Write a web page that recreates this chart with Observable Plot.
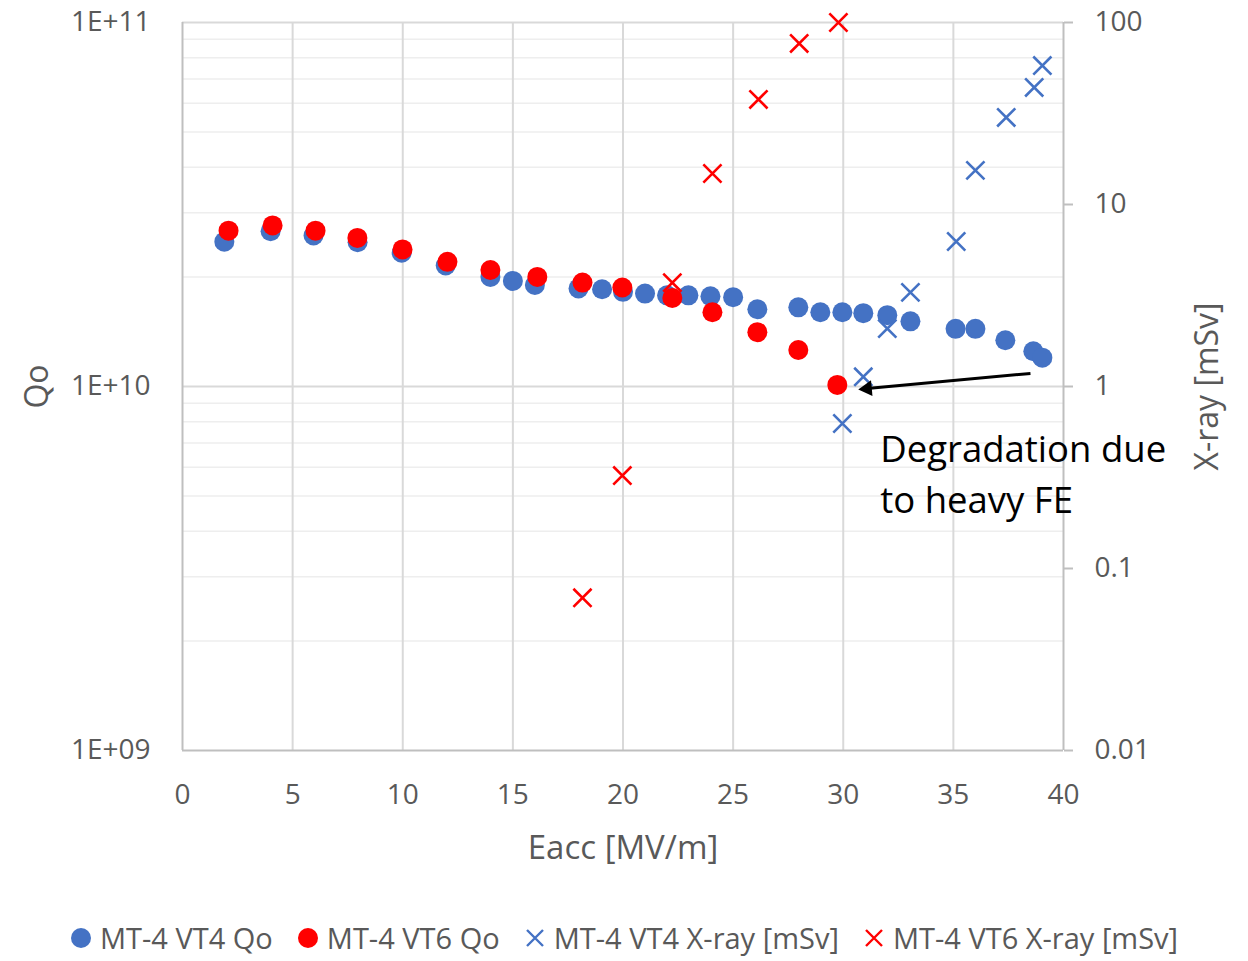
<!DOCTYPE html>
<html>
<head>
<meta charset="utf-8">
<script src="https://cdn.jsdelivr.net/npm/d3@7"></script>
<script src="https://cdn.jsdelivr.net/npm/@observablehq/plot@0.6"></script>
<style>
  html, body { margin: 0; padding: 0; background: #fff; overflow: hidden; }
  #chart svg { display: block; }
  #legend { display: flex; justify-content: center; align-items: center; font-family: "Open Sans", sans-serif; font-size: 29px; line-height: 40px; color: #595959; height: 40px; margin-top: 16px; }
  #legend .item { display: flex; align-items: center; margin: 0 12px; }
  #legend .item svg { margin-right: 8px; }
</style>
</head>
<body>
<div id="chart"></div>
<div id="legend"></div>
<script>
// ---- data ----
const vt4E = [1.9, 4.0, 5.95, 7.95, 9.95, 11.95, 13.98, 15.0, 16.0, 17.98, 19.05, 20.0, 21.0, 22.0, 22.97, 23.97, 25.0, 26.1, 27.96, 28.96, 29.96, 30.91, 32.0, 33.05, 35.1, 36.0, 37.36, 38.63, 39.04];
const vt4Q = [2.50e10, 2.67e10, 2.60e10, 2.49e10, 2.33e10, 2.15e10, 2.00e10, 1.95e10, 1.90e10, 1.86e10, 1.85e10, 1.82e10, 1.80e10, 1.78e10, 1.78e10, 1.77e10, 1.76e10, 1.63e10, 1.65e10, 1.60e10, 1.60e10, 1.59e10, 1.57e10, 1.51e10, 1.44e10, 1.44e10, 1.34e10, 1.25e10, 1.20e10];
const vt6E = [2.09, 4.09, 6.04, 7.94, 9.99, 12.03, 13.98, 16.11, 18.16, 19.97, 22.24, 24.06, 26.1, 27.96, 29.73];
const vt6Q = [2.68e10, 2.77e10, 2.68e10, 2.56e10, 2.38e10, 2.20e10, 2.09e10, 2.00e10, 1.93e10, 1.87e10, 1.75e10, 1.60e10, 1.41e10, 1.26e10, 1.01e10];
const vt4XrayE = [29.96, 30.91, 32.0, 33.05, 35.13, 36.0, 37.4, 38.67, 39.04];
const vt4Xray = [0.626, 1.13, 2.08, 3.29, 6.26, 15.4, 30.1, 44.0, 58.0];
const vt6XrayE = [18.16, 19.97, 22.24, 24.06, 26.15, 28.0, 29.78];
const vt6Xray = [0.069, 0.324, 3.72, 14.8, 37.8, 76.7, 100];

const xTicks = [0, 5, 10, 15, 20, 25, 30, 35, 40];
const qTicks = [1e9, 1e10, 1e11];
const qTickLabels = ["1E+09", "1E+10", "1E+11"];
const xrayTicks = [0.01, 0.1, 1, 10, 100];
const xrayTickLabels = ["0.01", "0.1", "1", "10", "100"];

const seriesNames = ["MT-4 VT4 Qo", "MT-4 VT6 Qo", "MT-4 VT4 X-ray [mSv]", "MT-4 VT6 X-ray [mSv]"];
const seriesColors = ["#4472C4", "#FF0000", "#4472C4", "#FF0000"];

const annotationText = ["Degradation due\nto heavy FE"];
const annotationAt = [{E: 31.68, Q: 7.8e9}];
const arrowFrom = {E: 38.5, Q: 1.086e10};
const arrowHead = {E: 31.09, Q: 9.87e9};

// ---- helpers ----
// secondary (X-ray) axis: 0.01..100 mapped onto 1e9..1e11
const xrayToQ = x => 1e10 * Math.sqrt(x);
const qTickMap = new Map(qTicks.map((t, i) => [t, qTickLabels[i]]));
const xrayPos = xrayTicks.map(xrayToQ);
const xrayLabel = d => {
  let best = 0, bd = Infinity;
  xrayPos.forEach((p, i) => { const dd = Math.abs(Math.log10(p) - Math.log10(d)); if (dd < bd) { bd = dd; best = i; } });
  return xrayTickLabels[best];
};

const vt4 = vt4E.map((e, i) => ({E: e, Q: vt4Q[i]}));
const vt6 = vt6E.map((e, i) => ({E: e, Q: vt6Q[i]}));
const vt4x = vt4XrayE.map((e, i) => ({E: e, Q: xrayToQ(vt4Xray[i])}));
const vt6x = vt6XrayE.map((e, i) => ({E: e, Q: xrayToQ(vt6Xray[i])}));

const minorY = [];
for (const dec of [1e9, 1e10]) for (let k = 2; k <= 9; k++) minorY.push(dec * k);

const font = "Open Sans, sans-serif";
const chart = Plot.plot({
  width: 1248,
  height: 902,
  marginLeft: 182,
  marginRight: 185,
  marginTop: 22,
  marginBottom: 152,
  style: {fontFamily: font, color: "#595959", background: "#fff"},
  x: {domain: [0, 40], axis: null},
  y: {type: "log", domain: [1e9, 1e11], axis: null},
  marks: [
    Plot.ruleY(minorY, {stroke: "#eeeeee", strokeWidth: 1.5}),
    Plot.ruleY([1e10, 1e11], {stroke: "#d9d9d9", strokeWidth: 2}),
    Plot.ruleX(xTicks.filter(t => t > 0 && t < 40), {stroke: "#d9d9d9", strokeWidth: 2}),
    Plot.ruleX([0, 40], {stroke: "#bfbfbf", strokeWidth: 2}),
    Plot.ruleY([1e9], {stroke: "#bfbfbf", strokeWidth: 2}),
    Plot.axisX({ticks: xTicks, tickSize: 0, tickPadding: 34, fontSize: 28, fill: "#595959", label: null}),
    Plot.axisY({anchor: "left", ticks: qTicks, tickFormat: d => qTickMap.get(d), tickSize: 0, tickPadding: 32, fontSize: 28, fill: "#595959", label: null}),
    Plot.axisY({anchor: "right", ticks: xrayPos, tickFormat: xrayLabel, tickSize: 9, tickPadding: 22, stroke: "#bfbfbf", strokeWidth: 2, fontSize: 28, fill: "#595959", label: null}),
    Plot.text(["Eacc [MV/m]"], {frameAnchor: "bottom", dy: 98, textAnchor: "middle", lineAnchor: "middle", fontSize: 33, fill: "#595959"}),
    Plot.text(["Qo"], {frameAnchor: "left", dx: -145, rotate: -90, textAnchor: "middle", lineAnchor: "middle", fontSize: 32, fill: "#595959"}),
    Plot.text(["X-ray [mSv]"], {frameAnchor: "right", dx: 144, rotate: -90, textAnchor: "middle", lineAnchor: "middle", fontSize: 32, fill: "#595959"}),
    Plot.dot(vt4, {x: "E", y: "Q", r: 10, fill: seriesColors[0]}),
    Plot.dot(vt6, {x: "E", y: "Q", r: 10, fill: seriesColors[1]}),
    Plot.dot(vt4x, {x: "E", y: "Q", r: 8.3, symbol: "times", stroke: seriesColors[2], strokeWidth: 2.6}),
    Plot.dot(vt6x, {x: "E", y: "Q", r: 8.3, symbol: "times", stroke: seriesColors[3], strokeWidth: 2.6}),
    Plot.link([{a: arrowFrom, b: arrowHead}], {x1: d => d.a.E, y1: d => d.a.Q, x2: d => d.b.E, y2: d => d.b.Q, stroke: "black", strokeWidth: 3}),
    Plot.dot([arrowHead], {x: "E", y: "Q", symbol: "triangle", r: 5.8, fill: "black", rotate: -95.3}),
    Plot.text(annotationAt, {x: "E", y: "Q", text: () => annotationText[0], textAnchor: "start", lineAnchor: "top", lineHeight: 1.4, fontSize: 36.5, fill: "black"})
  ]
});
document.getElementById("chart").appendChild(chart);

// ---- legend ----
const legend = document.getElementById("legend");
seriesNames.forEach((name, i) => {
  const item = document.createElement("div");
  item.className = "item";
  const sym = i < 2
    ? `<svg width="22" height="22"><circle cx="11" cy="11" r="10" fill="${seriesColors[i]}"/></svg>`
    : `<svg width="22" height="22"><path d="M3,3L19,19M19,3L3,19" stroke="${seriesColors[i]}" stroke-width="2.4"/></svg>`;
  item.innerHTML = sym + `<span>${name}</span>`;
  legend.appendChild(item);
});
</script>
</body>
</html>
